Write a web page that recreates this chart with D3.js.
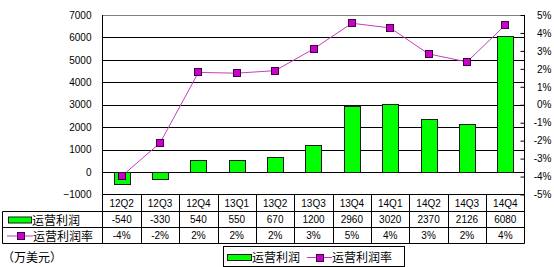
<!DOCTYPE html>
<html>
<head>
<meta charset="utf-8">
<script src="https://cdn.jsdelivr.net/npm/d3@7/dist/d3.min.js"></script>
<style>
  body { margin: 0; background: #fff; }
  svg text { font-family: "Liberation Sans", Arial, sans-serif; font-size: 10px; fill: #000; }
  svg text.cjk { font-family: "Noto Sans CJK SC", sans-serif; font-size: 12px; }
</style>
</head>
<body>
<div id="chart"></div>
<script>
'use strict';

// data
let categories = ['12Q2', '12Q3', '12Q4', '13Q1', '13Q2', '13Q3', '13Q4', '14Q1', '14Q2', '14Q3', '14Q4'];
let profit = [-540, -330, 540, 550, 670, 1200, 2960, 3020, 2370, 2126, 6080];
let margin = [-3.98, -2.13, 1.8, 1.76, 1.9, 3.11, 4.54, 4.28, 2.83, 2.39, 4.44];
let marginLabels = ['-4%', '-2%', '2%', '2%', '2%', '3%', '5%', '4%', '3%', '2%', '4%'];
let leftTicks = [-1000, 0, 1000, 2000, 3000, 4000, 5000, 6000, 7000];
let rightTicks = [-5, -4, -3, -2, -1, 0, 1, 2, 3, 4, 5];
let seriesNames = ['运营利润', '运营利润率'];

let config = {
    width: 554,
    height: 267,
    plot: { left: 102.5, right: 524.5, top: 15, bottom: 194.5 },
    rows: [194.5, 211.5, 227.5, 243.5],
    tableLeft: 2.5
};

let svg = d3.select('#chart')
    .append('svg')
    .attr('width', config.width)
    .attr('height', config.height);

let p = config.plot;

let xScale = d3.scaleBand()
    .domain(categories)
    .range([p.left, p.right])
    .padding(0);

let yLeft = d3.scaleLinear()
    .domain([-1000, 7000])
    .range([p.bottom, p.top]);

let yRight = d3.scaleLinear()
    .domain([-5, 5])
    .range([p.bottom, p.top]);

let cx = d => xScale(d) + xScale.bandwidth() / 2;

// gridlines
let grid = svg.append('g').attr('class', 'grid');
grid.selectAll('line')
    .data(leftTicks.filter(t => t > -1000))
    .enter()
    .append('line')
    .attr('x1', p.left)
    .attr('x2', p.right)
    .attr('y1', d => Math.round(yLeft(d)) + 0.5)
    .attr('y2', d => Math.round(yLeft(d)) + 0.5)
    .attr('stroke', d => d === 7000 ? '#808080' : '#000')
    .attr('stroke-width', 1);

// left axis labels
let leftAxis = d3.axisLeft(yLeft)
    .tickValues(leftTicks)
    .tickSize(0)
    .tickPadding(11)
    .tickFormat(d3.format('d'));
svg.append('g')
    .attr('transform', 'translate(' + p.left + ',0)')
    .call(leftAxis)
    .call(g => g.select('.domain').remove())
    .selectAll('text')
    .attr('font-size', null)
    .attr('font-family', null);

// right axis
let rightAxis = d3.axisLeft(yRight)
    .tickValues(rightTicks)
    .tickSize(4)
    .tickFormat(d => d + '%');
let ra = svg.append('g')
    .attr('transform', 'translate(' + p.right + ',0)')
    .call(rightAxis);
ra.select('.domain').remove();
ra.selectAll('.tick line').attr('stroke', '#000');
ra.selectAll('text')
    .attr('font-size', null)
    .attr('font-family', null)
    .attr('text-anchor', 'end')
    .attr('x', 27);

// axis lines
svg.append('line')
    .attr('x1', p.left).attr('x2', p.left)
    .attr('y1', p.top).attr('y2', p.bottom)
    .attr('stroke', '#000');
svg.append('line')
    .attr('x1', p.right).attr('x2', p.right)
    .attr('y1', p.top).attr('y2', config.rows[3])
    .attr('stroke', '#000');

// bars
let barW = xScale.bandwidth() * 0.42;
svg.append('g').attr('class', 'bars')
    .selectAll('rect')
    .data(profit)
    .enter()
    .append('rect')
    .attr('x', (d, i) => Math.round(cx(categories[i]) - barW / 2) + 0.5)
    .attr('width', Math.round(barW))
    .attr('y', d => Math.round(yLeft(Math.max(0, d))) + 0.5)
    .attr('height', d => Math.abs(Math.round(yLeft(d)) - Math.round(yLeft(0))))
    .attr('fill', '#00ff00')
    .attr('stroke', '#1a1a1a');

// margin line
let line = d3.line()
    .x((d, i) => cx(categories[i]))
    .y(d => yRight(d));

svg.append('path')
    .datum(margin)
    .attr('d', line)
    .attr('fill', 'none')
    .attr('stroke', '#c040c0')
    .attr('stroke-width', 1);

svg.append('g').attr('class', 'markers')
    .selectAll('rect')
    .data(margin)
    .enter()
    .append('rect')
    .attr('x', (d, i) => Math.round(cx(categories[i])) - 3.5)
    .attr('y', d => Math.round(yRight(d)) - 3.5)
    .attr('width', 7)
    .attr('height', 7)
    .attr('fill', '#cc00cc')
    .attr('stroke', '#400040');

// data table
let rows = config.rows;
let table = svg.append('g').attr('class', 'table');

rows.forEach((y, i) => {
    table.append('line')
        .attr('x1', i === 0 ? p.left : config.tableLeft)
        .attr('x2', p.right)
        .attr('y1', y).attr('y2', y)
        .attr('stroke', '#000');
});
table.append('line')
    .attr('x1', config.tableLeft).attr('x2', config.tableLeft)
    .attr('y1', rows[1]).attr('y2', rows[3])
    .attr('stroke', '#000');
table.selectAll('.vline')
    .data(categories)
    .enter()
    .append('line')
    .attr('x1', d => Math.round(xScale(d)) + 0.5)
    .attr('x2', d => Math.round(xScale(d)) + 0.5)
    .attr('y1', rows[0]).attr('y2', rows[3])
    .attr('stroke', '#000');

let rowText = [categories, profit, marginLabels];
rowText.forEach((vals, r) => {
    table.selectAll('.r' + r)
        .data(vals)
        .enter()
        .append('text')
        .attr('x', (d, i) => cx(categories[i]))
        .attr('y', (rows[r] + rows[r + 1]) / 2 + 3.5)
        .attr('text-anchor', 'middle')
        .text(d => d);
});

// table row headers
let midRow1 = (rows[1] + rows[2]) / 2;
let midRow2 = (rows[2] + rows[3]) / 2;
table.append('rect')
    .attr('x', 8.5).attr('y', midRow1 - 2.5)
    .attr('width', 23).attr('height', 6)
    .attr('fill', '#00ff00').attr('stroke', '#1a1a1a');
table.append('text').attr('class', 'cjk')
    .attr('x', 32).attr('y', midRow1 + 5)
    .text(seriesNames[0]);
table.append('line')
    .attr('x1', 7).attr('x2', 33)
    .attr('y1', midRow2 + 0.5).attr('y2', midRow2 + 0.5)
    .attr('stroke', '#c040c0');
table.append('rect')
    .attr('x', 17.5).attr('y', midRow2 - 3)
    .attr('width', 7).attr('height', 7)
    .attr('fill', '#cc00cc').attr('stroke', '#400040');
table.append('text').attr('class', 'cjk')
    .attr('x', 33).attr('y', midRow2 + 5)
    .text(seriesNames[1]);

// unit
svg.append('text').attr('class', 'cjk')
    .attr('x', 2).attr('y', 262)
    .text('（万美元）');

// legend
let legend = svg.append('g').attr('class', 'legend');
legend.append('rect')
    .attr('x', 223.5).attr('y', 246.5)
    .attr('width', 181).attr('height', 20)
    .attr('fill', '#fff').attr('stroke', '#000');
legend.append('rect')
    .attr('x', 227.5).attr('y', 254.5)
    .attr('width', 24).attr('height', 6)
    .attr('fill', '#00ff00').attr('stroke', '#1a1a1a');
legend.append('text').attr('class', 'cjk')
    .attr('x', 252).attr('y', 262)
    .text(seriesNames[0]);
legend.append('line')
    .attr('x1', 307).attr('x2', 332)
    .attr('y1', 257.5).attr('y2', 257.5)
    .attr('stroke', '#c040c0');
legend.append('rect')
    .attr('x', 316.5).attr('y', 254.5)
    .attr('width', 7).attr('height', 7)
    .attr('fill', '#cc00cc').attr('stroke', '#400040');
legend.append('text').attr('class', 'cjk')
    .attr('x', 332).attr('y', 262)
    .text(seriesNames[1]);
</script>
</body>
</html>
